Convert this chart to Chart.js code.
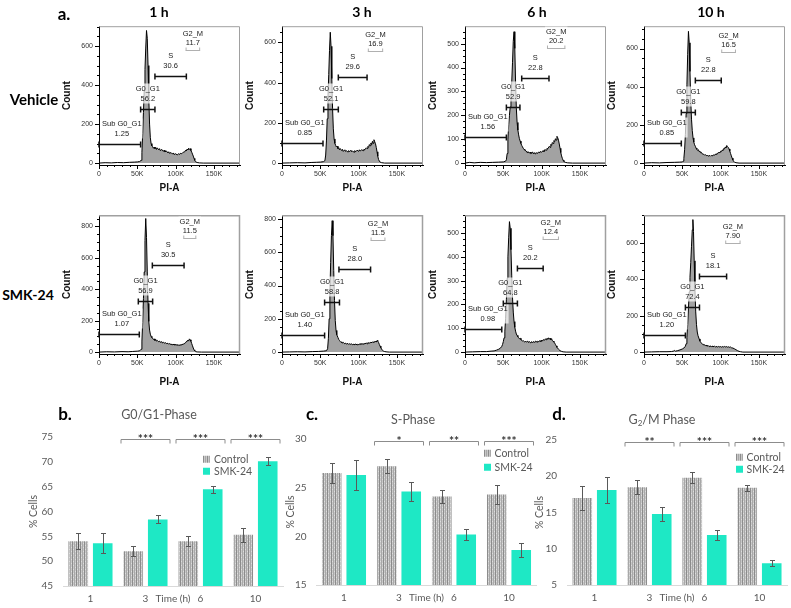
<!DOCTYPE html>
<html>
<head>
<meta charset="utf-8">
<title>Cell cycle distribution</title>
<script src="https://cdn.jsdelivr.net/npm/chart.js@4.4.1/dist/chart.umd.min.js"></script>
<style>
  html, body { margin: 0; padding: 0; background: #fff; }
  #fig { position: relative; width: 791px; height: 608px; overflow: hidden; font-family: Lato, "Open Sans", sans-serif; }
  #fig canvas { position: absolute; }
  .lbl { position: absolute; white-space: nowrap; transform: translate(-50%, -50%); line-height: 1; }
  .bold { font-weight: 700; color: #000; }
  .ttl { color: #595959; font-size: 12.5px; }
  .ttl sub { font-size: 8px; vertical-align: -2px; }
  .leg { position: absolute; white-space: nowrap; font-size: 10.5px; color: #595959; line-height: 1; transform: translateY(-50%); }
  .sw { display: inline-block; width: 7px; height: 7px; margin-right: 4px; vertical-align: 0; }
  .sw.ctrl { background: repeating-linear-gradient(90deg, #8c8c8c 0 1px, #c8c8c8 1px 2px, #a8a8a8 2px 3px, #c8c8c8 3px 4px); }
  .sw.smk { background: #1ee8c5; }
</style>
</head>
<body>
<div id="fig"></div>
<script>
// --- Histogram data: [PI-A in K, count] ---
const histVehicle1h = [[0,0],[8,2],[16,1],[24,3],[32,2],[40,4],[46,5],[50,6],[53,8],[55,14],[56,55],[57,150],[58,260],[59,370],[60,480],[61,590],[62,680],[63,640],[64,500],[65,330],[66,200],[67,130],[68,100],[69,88],[70,84],[71,76],[72,82],[73,74],[74,80],[75,70],[76,78],[78,68],[79,74],[80,64],[82,70],[84,60],[85,66],[86,58],[88,62],[90,52],[91,58],[92,50],[94,54],[96,46],[97,52],[98,44],[100,48],[102,42],[104,48],[105,44],[106,50],[108,48],[110,56],[112,58],[113,66],[114,62],[115,72],[116,68],[117,76],[118,70],[119,74],[120,64],[121,56],[122,46],[123,36],[124,24],[125,14],[126,7],[128,3],[131,1],[136,0],[184,0]];
const histVehicle3h = [[0,0],[10,1],[20,2],[30,1],[38,3],[45,4],[50,5],[54,7],[56,12],[57,40],[58,110],[59,220],[60,330],[61,440],[62,560],[63,650],[64,580],[65,420],[66,270],[67,170],[68,120],[69,98],[70,88],[71,80],[72,84],[73,72],[74,76],[75,66],[76,72],[78,62],[79,68],[80,58],[82,66],[83,58],[84,62],[86,54],[87,62],[88,56],[90,64],[91,56],[92,60],[94,54],[95,62],[96,56],[98,64],[100,58],[101,66],[102,60],[104,66],[106,62],[107,70],[108,66],[110,76],[111,72],[112,82],[113,78],[114,92],[115,86],[116,100],[117,92],[118,108],[119,98],[120,116],[121,106],[122,96],[123,78],[124,56],[125,34],[126,18],[127,10],[128,5],[130,2],[134,0],[184,0]];
const histVehicle6h = [[0,0],[6,3],[12,1],[20,3],[28,2],[36,3],[44,4],[50,5],[53,8],[54,14],[55,40],[56,100],[57,160],[58,200],[59,235],[60,280],[61,340],[62,420],[63,510],[64,550],[65,480],[66,340],[67,230],[68,170],[69,138],[70,118],[71,102],[72,92],[73,82],[74,74],[75,68],[76,62],[77,58],[78,54],[80,50],[81,44],[82,48],[84,42],[85,46],[86,40],[88,46],[89,40],[90,44],[92,38],[93,44],[94,40],[96,46],[97,42],[98,48],[100,46],[102,52],[103,48],[104,56],[106,54],[107,62],[108,60],[110,70],[111,66],[112,78],[113,74],[114,86],[115,82],[116,94],[117,90],[118,102],[119,96],[120,112],[121,106],[122,96],[123,80],[124,62],[125,44],[126,30],[127,20],[128,12],[129,7],[131,3],[134,1],[140,0],[184,0]];
const histVehicle10h = [[0,0],[10,2],[20,1],[30,3],[40,4],[46,5],[50,6],[51,10],[52,24],[53,70],[54,150],[55,260],[56,410],[57,570],[58,690],[59,630],[60,480],[61,330],[62,230],[63,170],[64,132],[65,110],[66,96],[67,88],[68,78],[69,72],[70,66],[71,70],[72,60],[73,62],[74,54],[75,56],[76,48],[78,46],[79,42],[80,44],[82,38],[83,42],[84,36],[86,40],[87,36],[88,40],[90,38],[91,44],[92,42],[94,48],[95,46],[96,52],[98,56],[99,54],[100,62],[101,60],[102,68],[103,66],[104,76],[105,74],[106,84],[107,80],[108,92],[109,86],[110,82],[111,74],[112,62],[113,50],[114,38],[115,26],[116,16],[117,9],[118,5],[120,2],[124,0],[184,0]];
const histSmk1h = [[0,0],[10,2],[20,1],[30,3],[38,2],[44,4],[50,6],[53,8],[55,18],[56,70],[57,190],[58,340],[59,510],[60,710],[61,850],[62,730],[63,510],[64,310],[65,195],[66,140],[67,114],[68,100],[69,92],[70,88],[71,80],[72,84],[73,74],[74,80],[75,70],[76,74],[78,66],[79,70],[80,62],[82,66],[83,58],[84,62],[86,56],[87,60],[88,54],[90,56],[91,50],[92,54],[94,48],[95,52],[96,46],[98,50],[99,44],[100,48],[102,44],[103,48],[104,42],[106,46],[107,44],[108,48],[110,50],[111,54],[112,56],[113,62],[114,64],[115,72],[116,76],[117,70],[118,84],[119,78],[120,68],[121,54],[122,40],[123,26],[124,14],[125,7],[126,3],[128,1],[134,0],[184,0]];
const histSmk3h = [[0,0],[10,1],[20,2],[30,1],[40,3],[48,4],[54,6],[58,8],[59.5,20],[60.5,80],[61.5,200],[62.5,360],[63.5,540],[64.5,700],[65.5,790],[66.5,700],[67.5,490],[68.5,310],[69.5,190],[70.5,130],[71.5,104],[73,88],[74,76],[75,70],[76,64],[77,58],[78,62],[79,54],[80,58],[82,50],[83,54],[84,48],[86,52],[87,46],[88,50],[90,46],[91,50],[92,44],[94,48],[95,44],[96,48],[98,44],[99,48],[100,45],[102,50],[103,46],[104,50],[106,48],[107,52],[108,50],[110,54],[111,50],[112,56],[114,54],[115,58],[116,56],[118,60],[119,58],[120,64],[121,60],[122,66],[123,60],[124,70],[125,66],[126,58],[127,46],[128,36],[129,26],[130,18],[131,11],[132,7],[134,3],[137,1],[140,0],[184,0]];
const histSmk6h = [[0,0],[10,1],[20,2],[28,2],[34,4],[38,5],[41,8],[44,12],[46,16],[48,24],[49,32],[50,44],[51,60],[52,88],[53,140],[54,220],[55,310],[56,400],[57,480],[58,548],[59,520],[60,430],[61,320],[62,228],[63,168],[64,128],[65,104],[66,88],[67,76],[68,70],[69,64],[70,60],[71,56],[72,58],[73,52],[74,50],[75,46],[76,48],[78,42],[79,46],[80,42],[82,46],[83,40],[84,44],[86,38],[87,44],[88,40],[90,44],[91,40],[92,46],[94,42],[95,46],[96,44],[98,48],[99,44],[100,50],[101,46],[102,52],[104,50],[105,56],[106,52],[107,58],[108,54],[109,60],[110,54],[111,58],[112,52],[113,56],[114,48],[115,46],[116,42],[117,38],[118,32],[119,26],[120,20],[122,12],[124,6],[126,3],[128,1],[132,0],[184,0]];
const histSmk10h = [[0,0],[10,1],[20,2],[30,2],[36,3],[39,6],[40,9],[41,5],[44,8],[47,12],[50,17],[52,22],[54,32],[55,46],[56,80],[57,150],[58,240],[59,330],[60,410],[61,490],[62,580],[63,670],[63.8,726],[64.6,660],[65.5,500],[66.5,340],[67.5,220],[68.5,150],[69.5,110],[70.5,90],[72,72],[73,60],[74,54],[75,48],[76,46],[77,40],[78,42],[80,36],[81,38],[82,33],[84,35],[85,30],[86,34],[88,30],[89,33],[90,29],[92,32],[93,28],[94,31],[96,28],[97,31],[98,28],[100,30],[101,27],[102,30],[104,28],[105,31],[106,28],[108,30],[109,27],[110,29],[112,26],[113,28],[114,24],[116,22],[118,18],[120,13],[122,8],[124,4],[126,2],[129,0],[184,0]];

// gates: [from K, to K, count level] for Sub G0_G1, G0_G1, S, G2_M
const gateNames = ['Sub G0_G1', 'G0_G1', 'S', 'G2_M'];
const gatesVehicle1h = [[0,54.3,98],[54.3,73,276],[73,114,447],[113,132,581]];
const gatesVehicle3h = [[0,53.5,101],[54.4,73.5,269],[73.5,111,427],[112,132,557]];
const gatesVehicle6h = [[0,54,110],[54,71.7,233],[74,109.6,357],[107,131,483]];
const gatesVehicle10h = [[0,48.7,103],[48.7,67,270],[67,100.8,433],[100.8,120,584]];
const gatesSmk1h = [[0,52.6,115],[51.3,70,326],[69.6,111,551],[110,127,727]];
const gatesSmk3h = [[0,55.6,105],[55.6,75,303],[74.3,115.6,500],[115.6,135,672]];
const gatesSmk6h = [[0,48,98],[50,68.4,208],[68.4,102,355],[101.3,122.6,475]];
const gatesSmk10h = [[0,54,95],[54,72.4,247],[72.4,107.8,418],[106,126,597]];
const freqVehicle1h = ['1.25', '56.2', '30.6', '11.7'];
const freqVehicle3h = ['0.85', '52.1', '29.6', '16.9'];
const freqVehicle6h = ['1.56', '52.9', '22.8', '20.2'];
const freqVehicle10h = ['0.85', '59.8', '22.8', '16.5'];
const freqSmk1h = ['1.07', '56.9', '30.5', '11.5'];
const freqSmk3h = ['1.40', '58.8', '28.0', '11.5'];
const freqSmk6h = ['0.98', '64.8', '20.2', '12.4'];
const freqSmk10h = ['1.20', '72.4', '18.1', '7.90'];
const histTimes = ['1 h', '3 h', '6 h', '10 h'];
const histGroups = ['Vehicle', 'SMK-24'];
const piTicks = [0, 50, 100, 150];   // K

// --- Bar chart data (% cells, mean and error) ---
const timeLabels = ['1', '3', '6', '10'];
const seriesNames = ['Control', 'SMK-24'];
const g1Control = [54.0, 52.0, 54.0, 55.3];
const g1ControlErr = [1.6, 1.0, 1.0, 1.4];
const g1Smk = [53.6, 58.4, 64.5, 70.1];
const g1SmkErr = [2.0, 0.8, 0.7, 0.8];
const sControl = [26.5, 27.2, 24.1, 24.3];
const sControlErr = [1.05, 0.7, 0.7, 0.95];
const sSmk = [26.3, 24.6, 20.2, 18.6];
const sSmkErr = [1.5, 0.95, 0.55, 0.75];
const g2Control = [17.0, 18.5, 19.8, 18.4];
const g2ControlErr = [1.7, 0.95, 0.75, 0.4];
const g2Smk = [18.1, 14.8, 11.9, 8.0];
const g2SmkErr = [1.8, 1.0, 0.75, 0.4];
const g1Sig = ['', '***', '***', '***'];
const sSig = ['', '*', '**', '***'];
const g2Sig = ['', '**', '***', '***'];

// --- Layout ---
const fig = document.getElementById('fig');
const FLOW_FONT = '"Liberation Sans", Arial, sans-serif';
const TEAL = '#1ee8c5';
const BOX = 141;      // FlowJo plot box, px
const X_MAX = 184;    // K

const panels = [
  { hist: histVehicle1h, gates: gatesVehicle1h, freq: freqVehicle1h, left: 99, top: 24, yMax: 702, yStep: 200, row: 0 },
  { hist: histVehicle3h, gates: gatesVehicle3h, freq: freqVehicle3h, left: 282, top: 24, yMax: 680, yStep: 200, row: 0 },
  { hist: histVehicle6h, gates: gatesVehicle6h, freq: freqVehicle6h, left: 465, top: 24, yMax: 573, yStep: 100, row: 0 },
  { hist: histVehicle10h, gates: gatesVehicle10h, freq: freqVehicle10h, left: 644, top: 24, yMax: 717, yStep: 200, row: 0 },
  { hist: histSmk1h, gates: gatesSmk1h, freq: freqSmk1h, left: 99, top: 213, yMax: 871, yStep: 200, row: 1 },
  { hist: histSmk3h, gates: gatesSmk3h, freq: freqSmk3h, left: 282, top: 213, yMax: 823, yStep: 200, row: 1 },
  { hist: histSmk6h, gates: gatesSmk6h, freq: freqSmk6h, left: 465, top: 213, yMax: 575, yStep: 100, row: 1 },
  { hist: histSmk10h, gates: gatesSmk10h, freq: freqSmk10h, left: 644, top: 213, yMax: 750, yStep: 200, row: 1 }
];

function addCanvas(left, top, w, h) {
  const c = document.createElement('canvas');
  c.width = w; c.height = h;
  c.style.left = left + 'px'; c.style.top = top + 'px';
  c.style.width = w + 'px'; c.style.height = h + 'px';
  fig.appendChild(c);
  return c;
}

function text(html, x, y, cls, style) {
  const d = document.createElement('div');
  d.className = 'lbl ' + (cls || '');
  d.innerHTML = html;
  d.style.left = x + 'px';
  d.style.top = y + 'px';
  if (style) d.style.cssText += style;
  fig.appendChild(d);
}

function legend(x, y, gap) {
  seriesNames.forEach((name, i) => {
    const d = document.createElement('div');
    d.className = 'leg';
    d.innerHTML = '<span class="sw ' + (i ? 'smk' : 'ctrl') + '"></span>' + name;
    d.style.left = x + 'px';
    d.style.top = (y + i * gap) + 'px';
    fig.appendChild(d);
  });
}

// --- FlowJo style extras: frame, ticks, gates and their labels ---
const flowPlugin = {
  id: 'flow',
  afterDatasetsDraw(chart, args, opts) {
    const { ctx, chartArea: a, scales: { x, y } } = chart;
    const p = opts.panel;
    ctx.save();
    ctx.lineWidth = p.row ? 1.5 : 1;
    ctx.strokeStyle = '#a0a0a0';
    ctx.beginPath();
    ctx.moveTo(a.left, a.top + 0.5);
    ctx.lineTo(a.right - 0.5, a.top + 0.5);
    ctx.lineTo(a.right - 0.5, a.bottom);
    ctx.stroke();

    ctx.lineWidth = 1;
    ctx.strokeStyle = '#000';
    ctx.beginPath();
    for (let v = 0; v <= y.max; v += p.yStep / 4) {
      const py = Math.round(y.getPixelForValue(v)) + 0.5;
      const len = v % p.yStep === 0 ? 4 : 2;
      ctx.moveTo(a.left - len, py); ctx.lineTo(a.left, py);
    }
    for (let v = 0; v <= x.max; v += 10) {
      const px = Math.round(x.getPixelForValue(v)) + 0.5;
      const len = v % 50 === 0 ? 4 : 2;
      ctx.moveTo(px, a.bottom); ctx.lineTo(px, a.bottom + len);
    }
    ctx.stroke();

    ctx.font = '7.5px ' + FLOW_FONT;
    ctx.textAlign = 'center';
    ctx.textBaseline = 'middle';
    p.gates.forEach(([g0, g1, level], i) => {
      const x0 = x.getPixelForValue(g0), x1 = x.getPixelForValue(g1);
      const gy = Math.round(y.getPixelForValue(level)) + 0.5;
      const isG2 = i === 3;
      const lines = [gateNames[i], p.freq[i]];
      const w = Math.max(...lines.map(t => ctx.measureText(t).width));
      const cx = Math.max((x0 + x1) / 2, a.left + w / 2 + 3);
      const yName = gy - (isG2 ? 17 : 21), yFreq = gy - (isG2 ? 8 : 11);
      ctx.fillStyle = 'rgba(255,255,255,0.7)';
      ctx.fillRect(cx - w / 2 - 1, yName - 5, w + 2, yFreq - yName + 10);
      ctx.fillStyle = '#222';
      ctx.fillText(lines[0], cx, yName);
      ctx.fillText(lines[1], cx, yFreq);

      ctx.strokeStyle = isG2 ? '#b0b0b0' : '#111';
      ctx.lineWidth = isG2 ? 1 : 1.5;
      ctx.beginPath();
      ctx.moveTo(x0, gy); ctx.lineTo(x1, gy);
      if (isG2) {
        ctx.moveTo(x0 + 0.5, gy); ctx.lineTo(x0 + 0.5, gy - 3);
        ctx.moveTo(x1 - 0.5, gy); ctx.lineTo(x1 - 0.5, gy - 3);
      } else {
        ctx.moveTo(x0, gy - 3); ctx.lineTo(x0, gy + 3);
        ctx.moveTo(x1, gy - 3); ctx.lineTo(x1, gy + 3);
      }
      ctx.stroke();
    });
    ctx.restore();
  }
};

function flowChart(p) {
  const padL = 44, padT = 8, padR = 4, axisH = 34;
  const countTicks = [];
  for (let v = 0; v <= p.yMax; v += p.yStep) countTicks.push({ value: v });
  const cv = addCanvas(p.left - padL, p.top - padT, padL + BOX + padR, padT + BOX + axisH);
  new Chart(cv, {
    type: 'line',
    data: {
      datasets: [{
        data: p.hist.map(([x, y]) => ({ x, y })),
        fill: 'origin',
        backgroundColor: '#a2a2a2',
        borderColor: '#000',
        borderWidth: 1,
        pointRadius: 0,
        tension: 0
      }]
    },
    options: {
      responsive: false,
      animation: false,
      events: [],
      layout: { padding: { left: 0, top: padT, right: padR, bottom: 0 } },
      plugins: { legend: { display: false }, tooltip: { enabled: false }, flow: { panel: p } },
      scales: {
        x: {
          type: 'linear', min: 0, max: X_MAX,
          afterBuildTicks: s => { s.ticks = piTicks.map(v => ({ value: v })); },
          afterFit: s => { s.height = axisH; },
          ticks: {
            autoSkip: false, maxRotation: 0, padding: 5,
            color: '#333', font: { size: 7, family: FLOW_FONT },
            callback: v => (v === 0 ? '0' : v + 'K')
          },
          grid: { display: false, drawTicks: false },
          border: { color: '#000' },
          title: {
            display: true, text: 'PI-A', color: '#111',
            font: { size: 10, weight: 'bold', family: FLOW_FONT },
            padding: { top: 0, bottom: p.row ? 0 : 5 }
          }
        },
        y: {
          min: -p.yMax * 0.014, max: p.yMax,
          afterBuildTicks: s => { s.ticks = countTicks.slice(); },
          afterFit: s => { s.width = padL; },
          ticks: {
            autoSkip: false, padding: 6,
            color: '#333', font: { size: 7, family: FLOW_FONT }
          },
          grid: { display: false, drawTicks: false },
          border: { color: '#000' },
          title: {
            display: true, text: 'Count', color: '#111',
            font: { size: 10, weight: 'bold', family: FLOW_FONT },
            padding: { top: 6, bottom: 0 }
          }
        }
      }
    },
    plugins: [flowPlugin]
  });
}

// --- Bar charts: error bars, significance brackets, axis caption ---
function hatchPattern() {
  const c = document.createElement('canvas');
  c.width = 4; c.height = 4;
  const g = c.getContext('2d');
  g.fillStyle = '#c8c8c8'; g.fillRect(0, 0, 4, 4);
  g.fillStyle = '#8c8c8c'; g.fillRect(0, 0, 1, 4);
  g.fillStyle = '#a8a8a8'; g.fillRect(2, 0, 1, 4);
  g.fillStyle = '#dedede'; g.fillRect(1, 1, 1, 1); g.fillRect(3, 3, 1, 1);
  return g.createPattern(c, 'repeat');
}

const cellPlugin = {
  id: 'cell',
  afterDatasetsDraw(chart, args, opts) {
    const { ctx, chartArea: a, scales: { x, y } } = chart;
    ctx.save();
    ctx.strokeStyle = '#595959';
    ctx.lineWidth = 1;
    opts.errs.forEach((errs, di) => {
      const vals = chart.data.datasets[di].data;
      chart.getDatasetMeta(di).data.forEach((bar, j) => {
        const cx = Math.round(bar.x) + 0.5;
        const hi = Math.round(y.getPixelForValue(vals[j] + errs[j])) + 0.5;
        const lo = Math.round(y.getPixelForValue(vals[j] - errs[j])) + 0.5;
        ctx.beginPath();
        ctx.moveTo(cx, hi); ctx.lineTo(cx, lo);
        ctx.moveTo(cx - 2.5, hi); ctx.lineTo(cx + 2.5, hi);
        ctx.moveTo(cx - 2.5, lo); ctx.lineTo(cx + 2.5, lo);
        ctx.stroke();
      });
    });

    ctx.strokeStyle = '#8c8c8c';
    ctx.fillStyle = '#333';
    ctx.font = 'bold 12px Lato, sans-serif';
    ctx.textAlign = 'center';
    ctx.textBaseline = 'middle';
    const by = Math.round(a.top) + 2.5;
    opts.sig.forEach((s, j) => {
      if (!s) return;
      const cx = x.getPixelForValue(j);
      ctx.beginPath();
      ctx.moveTo(cx - 24.5, by + 4); ctx.lineTo(cx - 24.5, by);
      ctx.lineTo(cx + 24.5, by); ctx.lineTo(cx + 24.5, by + 4);
      ctx.stroke();
      ctx.fillText(s, cx, by);
    });

    ctx.fillStyle = '#595959';
    ctx.font = '10px Lato, sans-serif';
    ctx.fillText('Time (h)', (x.getPixelForValue(1) + x.getPixelForValue(2)) / 2, a.bottom + 13);
    ctx.restore();
  }
};

const hatch = hatchPattern();

function barChart(c) {
  const cv = addCanvas(c.left, 400, c.width, 208);
  new Chart(cv, {
    type: 'bar',
    data: {
      labels: timeLabels,
      datasets: [
        { label: seriesNames[0], data: c.ctrl, backgroundColor: hatch, categoryPercentage: 0.89, barPercentage: 0.8 },
        { label: seriesNames[1], data: c.smk, backgroundColor: TEAL, categoryPercentage: 0.89, barPercentage: 0.8 }
      ]
    },
    options: {
      responsive: false,
      animation: false,
      events: [],
      layout: { padding: { left: 0, top: c.padTop, right: c.padRight, bottom: 0 } },
      plugins: { legend: { display: false }, tooltip: { enabled: false }, cell: { errs: [c.ctrlErr, c.smkErr], sig: c.sig } },
      scales: {
        x: {
          afterFit: s => { s.height = c.axisH; },
          grid: { display: false, drawTicks: false },
          border: { color: '#d9d9d9' },
          ticks: { padding: 7, color: '#595959', font: { size: 10, family: 'Lato' } }
        },
        y: {
          min: c.yMin, max: c.yMax,
          afterFit: s => { s.width = c.axisW; },
          grid: { display: false, drawTicks: false },
          border: { display: false },
          ticks: { stepSize: 5, padding: 10, color: '#595959', font: { size: 10, family: 'Lato' } },
          title: {
            display: true, text: '% Cells', color: '#595959',
            font: { size: 10.5, family: 'Lato' },
            padding: { top: c.titlePad, bottom: 0 }
          }
        }
      }
    },
    plugins: [cellPlugin]
  });
}

// --- Build ---
panels.forEach(flowChart);

barChart({ left: 0, width: 290, padTop: 37, padRight: 7, axisW: 63, axisH: 22, yMin: 45, yMax: 75, titlePad: 27,
  ctrl: g1Control, ctrlErr: g1ControlErr, smk: g1Smk, smkErr: g1SmkErr, sig: g1Sig });
barChart({ left: 283, width: 260, padTop: 39, padRight: 6.5, axisW: 33.5, axisH: 23, yMin: 15, yMax: 30, titlePad: 1.5,
  ctrl: sControl, ctrlErr: sControlErr, smk: sSmk, smkErr: sSmkErr, sig: sSig });
barChart({ left: 530, width: 261, padTop: 40, padRight: 4, axisW: 37, axisH: 23, yMin: 5, yMax: 25, titlePad: 3.5,
  ctrl: g2Control, ctrlErr: g2ControlErr, smk: g2Smk, smkErr: g2SmkErr, sig: g2Sig });

text('a.', 64, 13, 'bold', 'font-size:17px');
[159, 362, 537, 711].forEach((cx, i) => text(histTimes[i], cx, 12, 'bold', 'font-size:14px'));
text(histGroups[0], 34, 99, 'bold', 'font-size:15px');
text(histGroups[1], 28, 295, 'bold', 'font-size:14px');

text('b.', 65, 413, 'bold', 'font-size:17px');
text('c.', 312, 413, 'bold', 'font-size:17px');
text('d.', 559, 413, 'bold', 'font-size:17px');
text('G0/G1-Phase', 159, 415, 'ttl');
text('S-Phase', 413, 420, 'ttl');
text('G<sub>2</sub>/M Phase', 662, 420, 'ttl');

legend(203, 459, 12);
legend(483.5, 453, 14);
legend(735.5, 457, 12);
</script>
</body>
</html>
